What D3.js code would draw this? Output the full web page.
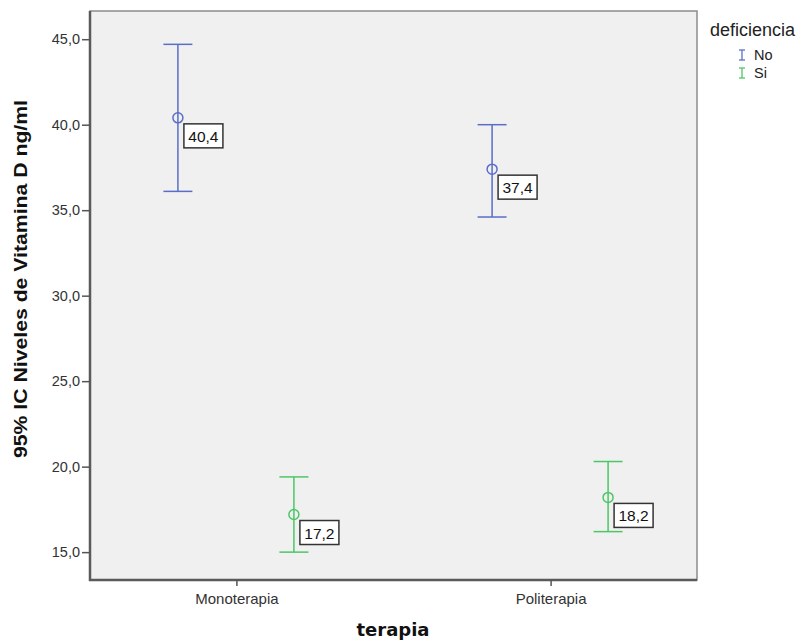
<!DOCTYPE html>
<html>
<head>
<meta charset="utf-8">
<script src="https://cdn.jsdelivr.net/npm/d3@7"></script>
<style>
  html, body { margin: 0; padding: 0; background: #ffffff; }
  svg { display: block; }
</style>
</head>
<body>
<svg id="chart" width="806" height="641"></svg>
<script>
// Therapy groups on the x axis
const categories = ["Monoterapia", "Politerapia"];
// Deficiency groups (legend series)
const seriesNames = ["No", "Si"];
// Mean vitamin D (ng/ml) per therapy, one array per series
const meanNo = [40.4, 37.4];
const meanSi = [17.2, 18.2];
// 95% confidence interval bounds
const lowerNo = [36.1, 34.6];
const upperNo = [44.7, 40.0];
const lowerSi = [15.0, 16.2];
const upperSi = [19.4, 20.3];
// Y axis ticks
const yTicks = [15, 20, 25, 30, 35, 40, 45];

const colors = { No: "#5a6ec8", Si: "#4cc765" };
const FONT = "'Liberation Sans', Arial, sans-serif";

const svg = d3.select("#chart");
const plot = { left: 90, top: 11, right: 697, bottom: 580 };

const x = d3.scalePoint().domain(categories)
  .range([plot.left, plot.right]).padding(0.466);
const sub = d3.scalePoint().domain(seriesNames).range([-58.5, 57.5]);
const y = d3.scaleLinear().domain([13.37, 46.65]).range([plot.bottom, plot.top]);

// Plot background and frame
svg.append("rect")
  .attr("x", plot.left).attr("y", plot.top)
  .attr("width", plot.right - plot.left).attr("height", plot.bottom - plot.top)
  .attr("fill", "#f0f0f0").attr("stroke", "#8c8c8c").attr("stroke-width", 1.5);

// Y axis
const yAxis = d3.axisLeft(y).tickValues(yTicks)
  .tickFormat(d => d3.format(".1f")(d).replace(".", ","))
  .tickSize(8).tickPadding(2);
const gy = svg.append("g").attr("transform", `translate(${plot.left},0)`).call(yAxis);
gy.select(".domain").attr("stroke", "#5a5a5a").attr("stroke-width", 2.5)
  .attr("d", `M0,${plot.top}V${plot.bottom + 1}`);
gy.selectAll(".tick line").attr("stroke", "#555").attr("stroke-width", 1.5);
gy.selectAll(".tick text").attr("fill", "#333")
  .style("font-family", FONT).style("font-size", "14.5px");

// X axis
const xAxis = d3.axisBottom(x).tickSize(6).tickPadding(7);
const gx = svg.append("g").attr("transform", `translate(0,${plot.bottom})`).call(xAxis);
gx.select(".domain").attr("stroke", "#5a5a5a").attr("stroke-width", 2.5)
  .attr("d", `M${plot.left - 1},0H${plot.right}`);
gx.selectAll(".tick line").attr("stroke", "#555").attr("stroke-width", 1.5);
gx.selectAll(".tick text").attr("fill", "#333")
  .style("font-family", FONT).style("font-size", "15px");

// Axis titles
svg.append("text")
  .attr("x", 393).attr("y", 636).attr("text-anchor", "middle")
  .style("font-family", "'DejaVu Sans', Verdana, sans-serif").style("font-weight", "bold")
  .style("font-size", "18px").attr("fill", "#111").text("terapia");
svg.append("text")
  .attr("transform", "translate(27,279) rotate(-90)").attr("text-anchor", "middle")
  .attr("textLength", 358).attr("lengthAdjust", "spacingAndGlyphs")
  .style("font-family", FONT).style("font-weight", "bold")
  .style("font-size", "18px").attr("fill", "#111").text("95% IC Niveles de Vitamina D ng/ml");

// Build records
const rows = [];
categories.forEach((c, i) => {
  rows.push({ cat: c, s: "No", mean: meanNo[i], lo: lowerNo[i], hi: upperNo[i] });
  rows.push({ cat: c, s: "Si", mean: meanSi[i], lo: lowerSi[i], hi: upperSi[i] });
});

const capHalf = 14.5;
const g = svg.append("g");
rows.forEach(r => {
  const cx = x(r.cat) + sub(r.s);
  const col = colors[r.s];
  const gg = g.append("g").attr("stroke", col).attr("stroke-width", 1.5).attr("fill", "none");
  gg.append("line").attr("x1", cx).attr("x2", cx).attr("y1", y(r.hi)).attr("y2", y(r.lo));
  gg.append("line").attr("x1", cx - capHalf).attr("x2", cx + capHalf).attr("y1", y(r.hi)).attr("y2", y(r.hi));
  gg.append("line").attr("x1", cx - capHalf).attr("x2", cx + capHalf).attr("y1", y(r.lo)).attr("y2", y(r.lo));
  gg.append("circle").attr("cx", cx).attr("cy", y(r.mean)).attr("r", 5);

  // Value label
  const cy = y(r.mean);
  const txt = d3.format(".1f")(r.mean).replace(".", ",");
  g.append("rect").attr("x", cx + 6).attr("y", cy + 6).attr("width", 39).attr("height", 24)
    .attr("fill", "#ffffff").attr("stroke", "#333").attr("stroke-width", 1.5);
  g.append("text").attr("x", cx + 25.5).attr("y", cy + 24).attr("text-anchor", "middle")
    .style("font-family", FONT).style("font-size", "15.5px")
    .attr("fill", "#111").text(txt);
});

// Legend
const lg = svg.append("g");
lg.append("text").attr("x", 710).attr("y", 36)
  .style("font-family", FONT).style("font-size", "18px")
  .attr("fill", "#222").text("deficiencia");
seriesNames.forEach((s, i) => {
  const yy = 55 + i * 18;
  const sx = 742;
  const sg = lg.append("g").attr("stroke", colors[s]).attr("stroke-width", 1.3);
  sg.append("line").attr("x1", sx).attr("x2", sx).attr("y1", yy - 5).attr("y2", yy + 5);
  sg.append("line").attr("x1", sx - 3).attr("x2", sx + 3).attr("y1", yy - 5).attr("y2", yy - 5);
  sg.append("line").attr("x1", sx - 3).attr("x2", sx + 3).attr("y1", yy + 5).attr("y2", yy + 5);
  lg.append("text").attr("x", 754).attr("y", yy + 5)
    .style("font-family", FONT).style("font-size", "14.5px")
    .attr("fill", "#222").text(s);
});
</script>
</body>
</html>
